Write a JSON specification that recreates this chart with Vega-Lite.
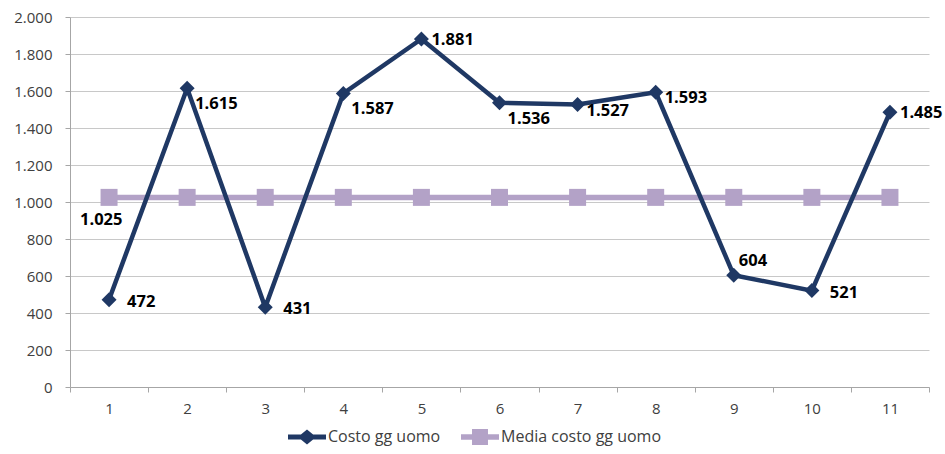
{
  "$schema": "https://vega.github.io/schema/vega-lite/v6.json",
  "width": 859,
  "height": 370,
  "autosize": "none",
  "padding": {"left": 70, "top": 17, "right": 16, "bottom": 67},
  "background": "white",
  "config": {
    "view": {"stroke": null},
    "font": "Open Sans",
    "locale": {"number": {"decimal": ",", "thousands": ".", "grouping": [3], "currency": ["€", ""]}}
  },
  "data": {
    "values": [
      {"x": 1, "serie": "Costo gg uomo", "v": 472},
      {"x": 2, "serie": "Costo gg uomo", "v": 1615},
      {"x": 3, "serie": "Costo gg uomo", "v": 431},
      {"x": 4, "serie": "Costo gg uomo", "v": 1587},
      {"x": 5, "serie": "Costo gg uomo", "v": 1881},
      {"x": 6, "serie": "Costo gg uomo", "v": 1536},
      {"x": 7, "serie": "Costo gg uomo", "v": 1527},
      {"x": 8, "serie": "Costo gg uomo", "v": 1593},
      {"x": 9, "serie": "Costo gg uomo", "v": 604},
      {"x": 10, "serie": "Costo gg uomo", "v": 521},
      {"x": 11, "serie": "Costo gg uomo", "v": 1485},
      {"x": 1, "serie": "Media costo gg uomo", "v": 1025},
      {"x": 2, "serie": "Media costo gg uomo", "v": 1025},
      {"x": 3, "serie": "Media costo gg uomo", "v": 1025},
      {"x": 4, "serie": "Media costo gg uomo", "v": 1025},
      {"x": 5, "serie": "Media costo gg uomo", "v": 1025},
      {"x": 6, "serie": "Media costo gg uomo", "v": 1025},
      {"x": 7, "serie": "Media costo gg uomo", "v": 1025},
      {"x": 8, "serie": "Media costo gg uomo", "v": 1025},
      {"x": 9, "serie": "Media costo gg uomo", "v": 1025},
      {"x": 10, "serie": "Media costo gg uomo", "v": 1025},
      {"x": 11, "serie": "Media costo gg uomo", "v": 1025}
    ]
  },
  "encoding": {
    "x": {
      "field": "x",
      "type": "ordinal",
      "scale": {"type": "band", "paddingInner": 0, "paddingOuter": 0},
      "bandPosition": 0.5,
      "axis": {
        "title": null,
        "tickBand": "extent",
        "tickSize": 5,
        "tickColor": "#a6a6a6",
        "domainColor": "#a6a6a6",
        "labelAngle": 0,
        "labelFontSize": 15,
        "labelColor": "#404040",
        "labelPadding": 9,
        "grid": false
      }
    },
    "y": {
      "field": "v",
      "type": "quantitative",
      "scale": {"domain": [0, 2000]},
      "axis": {
        "title": null,
        "values": [0, 200, 400, 600, 800, 1000, 1200, 1400, 1600, 1800, 2000],
        "format": ",d",
        "tickSize": 5,
        "tickColor": "#a6a6a6",
        "domainColor": "#a6a6a6",
        "gridColor": "#c8c8c8",
        "labelPadding": 13,
        "labelFontSize": 15,
        "labelColor": "#404040"
      }
    }
  },
  "layer": [
    {
      "transform": [{"filter": "datum.serie === 'Media costo gg uomo'"}],
      "mark": {"type": "line", "strokeWidth": 5.5},
      "encoding": {
        "color": {
          "field": "serie",
          "type": "nominal",
          "scale": {"domain": ["Costo gg uomo", "Media costo gg uomo"], "range": ["#1F3864", "#B3A2C7"]},
          "legend": {
            "title": null,
            "orient": "none",
            "legendX": 218,
            "legendY": 401,
            "direction": "horizontal",
            "symbolSize": 1444,
            "symbolStrokeWidth": 0,
            "labelFontSize": 16,
            "labelColor": "#404040",
            "labelOffset": 2,
            "labelLimit": 400,
            "columnPadding": 20,
            "padding": 0,
            "encode": {
              "symbols": {
                "update": {
                  "shape": {"signal": "datum.value === 'Costo gg uomo' ? 'M-1,-0.13H-0.32L0,-0.4L0.32,-0.13H1V0.13H0.32L0,0.4L-0.32,0.13H-1Z' : 'M-1,-0.14H-0.42V-0.42H0.42V-0.14H1V0.14H0.42V0.42H-0.42V0.14H-1Z'"},
                  "fill": {"signal": "datum.value === 'Costo gg uomo' ? '#1F3864' : '#B3A2C7'"},
                  "fillOpacity": {"value": 1},
                  "stroke": {"value": "transparent"},
                  "strokeWidth": {"value": 0},
                  "opacity": {"value": 1}
                }
              }
            }
          }
        }
      }
    },
    {
      "transform": [{"filter": "datum.serie === 'Media costo gg uomo'"}],
      "mark": {"type": "point", "shape": "square", "filled": true, "size": 289, "color": "#B3A2C7", "opacity": 1}
    },
    {
      "transform": [{"filter": "datum.serie === 'Costo gg uomo'"}],
      "mark": {"type": "line", "strokeWidth": 4.5},
      "encoding": {"color": {"field": "serie", "type": "nominal"}}
    },
    {
      "transform": [{"filter": "datum.serie === 'Costo gg uomo'"}],
      "mark": {"type": "point", "shape": "diamond", "filled": true, "size": 225, "color": "#1F3864", "opacity": 1}
    },
    {
      "transform": [{"filter": "datum.serie === 'Costo gg uomo' && indexof([1,3,10], datum.x) >= 0"}],
      "mark": {"type": "text", "align": "left", "baseline": "middle", "dx": 18, "dy": 2, "fontSize": 16.5, "fontWeight": "bold", "color": "#000000"},
      "encoding": {"text": {"field": "v", "type": "quantitative", "format": ",d"}}
    },
    {
      "transform": [{"filter": "datum.serie === 'Costo gg uomo' && indexof([5,11], datum.x) >= 0"}],
      "mark": {"type": "text", "align": "left", "baseline": "middle", "dx": 10, "dy": 1, "fontSize": 16.5, "fontWeight": "bold", "color": "#000000"},
      "encoding": {"text": {"field": "v", "type": "quantitative", "format": ",d"}}
    },
    {
      "transform": [{"filter": "datum.serie === 'Costo gg uomo' && indexof([2,4,6], datum.x) >= 0"}],
      "mark": {"type": "text", "align": "left", "baseline": "middle", "dx": 8, "dy": 16, "fontSize": 16.5, "fontWeight": "bold", "color": "#000000"},
      "encoding": {"text": {"field": "v", "type": "quantitative", "format": ",d"}}
    },
    {
      "transform": [{"filter": "datum.serie === 'Costo gg uomo' && indexof([7,8], datum.x) >= 0"}],
      "mark": {"type": "text", "align": "left", "baseline": "middle", "dx": 9, "dy": 6, "fontSize": 16.5, "fontWeight": "bold", "color": "#000000"},
      "encoding": {"text": {"field": "v", "type": "quantitative", "format": ",d"}}
    },
    {
      "transform": [{"filter": "datum.serie === 'Costo gg uomo' && datum.x === 9"}],
      "mark": {"type": "text", "align": "left", "baseline": "middle", "dx": 5, "dy": -14, "fontSize": 16.5, "fontWeight": "bold", "color": "#000000"},
      "encoding": {"text": {"field": "v", "type": "quantitative", "format": ",d"}}
    },
    {
      "transform": [{"filter": "datum.serie === 'Media costo gg uomo' && datum.x === 1"}],
      "mark": {"type": "text", "align": "left", "baseline": "middle", "dx": -29, "dy": 23, "fontSize": 16.5, "fontWeight": "bold", "color": "#000000"},
      "encoding": {"text": {"field": "v", "type": "quantitative", "format": ",d"}}
    }
  ]
}
